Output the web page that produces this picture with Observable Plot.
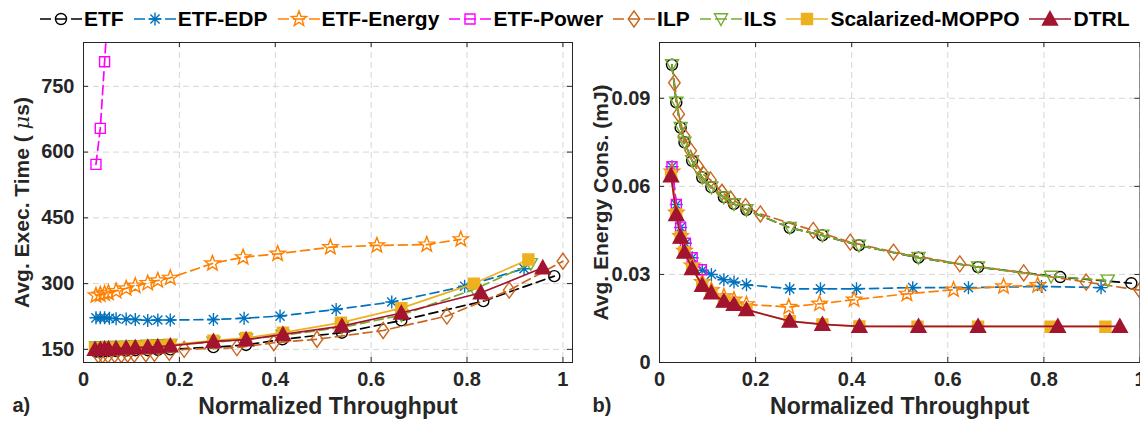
<!DOCTYPE html>
<html>
<head>
<meta charset="utf-8">
<script src="https://cdn.jsdelivr.net/npm/d3@7"></script>
<script src="https://cdn.jsdelivr.net/npm/@observablehq/plot@0.6"></script>
<style>
  html, body { margin: 0; padding: 0; background: #fff; }
  #wrap { position: relative; width: 1140px; height: 421px; overflow: hidden;
          font-family: "Liberation Sans", Arial, sans-serif; font-weight: bold; }
  #legend { position: absolute; left: 0; top: 0; width: 1140px; height: 37px;
            display: flex; align-items: center; padding-left: 40px; box-sizing: border-box; }
  .item { display: flex; align-items: center; margin-right: 10px; }
  .item span { font-size: 21px; color: #000; margin-left: 2px; white-space: nowrap; }
  .panel { position: absolute; top: 34px; }
</style>
</head>
<body>
<div id="wrap">
  <div id="legend"></div>
  <div class="panel" id="pa" style="left:0px"></div>
  <div class="panel" id="pb" style="left:580px"></div>
</div>
<script>
// ---------------- data ----------------
const seriesNames = ["ETF", "ETF-EDP", "ETF-Energy", "ETF-Power", "ILP", "ILS", "Scalarized-MOPPO", "DTRL"];

const etfX      = [0.026,0.035,0.044,0.052,0.068,0.089,0.108,0.134,0.155,0.181,0.271,0.339,0.415,0.539,0.663,0.834,0.982];
const etfTime   = [145,145,146,146,146,147,148,148,149,150,155,160,173,188,216,260,317];
const etfEnergy = [0.1014,0.0886,0.0800,0.0750,0.0687,0.0630,0.0597,0.0563,0.0540,0.0520,0.0459,0.0433,0.0399,0.0357,0.0325,0.0291,0.0270];

const edpX      = [0.026,0.035,0.044,0.054,0.068,0.089,0.108,0.134,0.155,0.181,0.271,0.335,0.410,0.527,0.643,0.795,0.919];
const edpTime   = [222,222,222,221,220,219,218,216,217,217,218,221,226,241,258,294,334];
const edpEnergy = [0.0667,0.0538,0.0460,0.0406,0.0357,0.0314,0.0300,0.0282,0.0274,0.0265,0.0251,0.0251,0.0251,0.0255,0.0255,0.0259,0.0255];

const energyX      = [0.026,0.035,0.044,0.052,0.068,0.089,0.108,0.134,0.155,0.181,0.269,0.333,0.405,0.515,0.612,0.716,0.787];
const energyTime   = [273,275,277,279,283,289,295,301,307,313,346,360,368,383,387,389,401];
const energyEnergy = [0.0650,0.0510,0.0430,0.0380,0.0330,0.0274,0.0246,0.0225,0.0214,0.0198,0.0189,0.0200,0.0214,0.0234,0.0248,0.0259,0.0263];

const powerX      = [0.026,0.035,0.044,0.054,0.068,0.087];
const powerTime   = [572,654,806,980];           // 4th point lies above the visible range
const powerEnergy = [0.0667,0.0538,0.0461,0.0406,0.0357,0.0316];

const ilpX      = [0.031,0.040,0.051,0.065,0.079,0.092,0.106,0.130,0.148,0.179,0.210,0.320,0.397,0.487,0.625,0.758,0.888,1.000];
const ilpTime   = [137,137,137,138,138,139,139,140,141,143,150,154,165,173,193,226,285,351];
const ilpEnergy = [0.0953,0.0846,0.0772,0.0721,0.0670,0.0640,0.0622,0.0580,0.0557,0.0531,0.0506,0.0450,0.0410,0.0376,0.0336,0.0305,0.0274,0.0246];

const ilsX      = [0.026,0.035,0.044,0.052,0.068,0.089,0.108,0.134,0.155,0.181,0.271,0.339,0.415,0.539,0.663,0.815,0.933];
const ilsTime   = [155,155,155,156,156,157,158,159,160,161,166,173,182,200,228,287,345];
const ilsEnergy = [0.1014,0.0886,0.0800,0.0750,0.0687,0.0630,0.0597,0.0563,0.0540,0.0520,0.0459,0.0433,0.0399,0.0357,0.0325,0.0293,0.0280];

const moppoX      = [0.024,0.035,0.044,0.052,0.068,0.089,0.108,0.134,0.155,0.181,0.271,0.339,0.416,0.537,0.663,0.814,0.928];
const moppoTime   = [152,152,153,153,154,155,156,157,158,160,170,176,188,211,244,300,355];
const moppoEnergy = [0.0636,0.0504,0.0427,0.0376,0.0320,0.0263,0.0237,0.0209,0.0198,0.0180,0.0141,0.0130,0.0123,0.0122,0.0122,0.0122,0.0122];

const dtrlX      = [0.024,0.035,0.044,0.052,0.068,0.089,0.108,0.134,0.155,0.181,0.271,0.339,0.416,0.539,0.663,0.829,0.958];
const dtrlTime   = [150,150,151,151,152,153,154,155,156,158,168,172,184,203,233,279,336];
const dtrlEnergy = [0.0636,0.0504,0.0427,0.0376,0.0320,0.0263,0.0237,0.0209,0.0198,0.0180,0.0141,0.0130,0.0123,0.0123,0.0123,0.0123,0.0123];

const xTicks = [0, 0.2, 0.4, 0.6, 0.8, 1];
const timeTicks = [150, 300, 450, 600, 750];
const energyTicks = [0, 0.03, 0.06, 0.09];

// ---------------- styles ----------------
const SYM = {
  circle:   {draw(c, s) { const r = Math.sqrt(s / Math.PI); c.moveTo(r, 0); c.arc(0, 0, r, 0, 2 * Math.PI); c.closePath(); }},
  asterisk: {draw(c, s) { const r = Math.sqrt(s / Math.PI);
              for (let k = 0; k < 4; k++) { const a = k * Math.PI / 4, dx = r * Math.cos(a), dy = r * Math.sin(a); c.moveTo(-dx, -dy); c.lineTo(dx, dy); } }},
  star:     {draw(c, s) { const r = Math.sqrt(s / Math.PI), ri = r * 0.42;
              for (let k = 0; k < 10; k++) { const rr = k % 2 ? ri : r, a = -Math.PI / 2 + k * Math.PI / 5;
                const px = rr * Math.cos(a), py = rr * Math.sin(a); if (k) c.lineTo(px, py); else c.moveTo(px, py); }
              c.closePath(); }},
  square:   {draw(c, s) { const r = Math.sqrt(s / Math.PI); c.rect(-r, -r, 2 * r, 2 * r); }},
  diamond:  {draw(c, s) { const r = Math.sqrt(s / Math.PI); c.moveTo(0, -r); c.lineTo(r * 0.72, 0); c.lineTo(0, r); c.lineTo(-r * 0.72, 0); c.closePath(); }},
  triUp:    {draw(c, s) { const r = Math.sqrt(s / Math.PI); c.moveTo(0, -r); c.lineTo(r, r * 0.8); c.lineTo(-r, r * 0.8); c.closePath(); }},
  triDown:  {draw(c, s) { const r = Math.sqrt(s / Math.PI); c.moveTo(0, r); c.lineTo(r, -r * 0.8); c.lineTo(-r, -r * 0.8); c.closePath(); }}
};

const styles = [
  {color: "#000000", dash: "9,5", sym: SYM.circle,   r: 5.5, fill: false},
  {color: "#0072BD", dash: "9,5", sym: SYM.asterisk, r: 6.5, fill: false},
  {color: "#FF8000", dash: "9,5", sym: SYM.star,     r: 8,   fill: false},
  {color: "#FF00FF", dash: "9,5", sym: SYM.square,   r: 5,   fill: false},
  {color: "#C9661F", dash: "9,5", sym: SYM.diamond,  r: 8,   fill: false},
  {color: "#77AC30", dash: "9,5", sym: SYM.triDown,  r: 6.5, fill: false},
  {color: "#EDB120", dash: null,  sym: SYM.square,   r: 5.5, fill: true},
  {color: "#A2142F", dash: null,  sym: SYM.triUp,    r: 7.5, fill: true}
];

const toRows = (xs, ys) => ys.map((y, i) => ({x: xs[i], y}));

const timeSeries = [
  toRows(etfX, etfTime), toRows(edpX, edpTime), toRows(energyX, energyTime), toRows(powerX, powerTime),
  toRows(ilpX, ilpTime), toRows(ilsX, ilsTime), toRows(moppoX, moppoTime), toRows(dtrlX, dtrlTime)
];
const energySeries = [
  toRows(etfX, etfEnergy), toRows(edpX, edpEnergy), toRows(energyX, energyEnergy), toRows(powerX, powerEnergy),
  toRows(ilpX, ilpEnergy), toRows(ilsX, ilsEnergy), toRows(moppoX, moppoEnergy), toRows(dtrlX, dtrlEnergy)
];

const FONT = '"Liberation Sans", Arial, sans-serif';
const AX = "#262626";

function panel({series, xDomain, yDomain, yTicks, width, marginLeft, marginRight, yLabel, tag, yLabelDx}) {
  const height = 387, marginTop = 8, marginBottom = 59;
  const plotH = height - marginTop - marginBottom;
  const plotW = width - marginLeft - marginRight;
  const marks = [
    Plot.ruleX(xTicks, {stroke: "#d6d6d6", strokeWidth: 1, strokeDasharray: "6,4"}),
    Plot.ruleY(yTicks, {stroke: "#d6d6d6", strokeWidth: 1, strokeDasharray: "6,4"})
  ];
  series.forEach((rows, i) => {
    const st = styles[i];
    marks.push(Plot.line(rows, {x: "x", y: "y", stroke: st.color, strokeWidth: 1.7,
      strokeDasharray: st.dash || undefined, clip: true}));
    marks.push(Plot.dot(rows, {x: "x", y: "y", symbol: st.sym, r: st.r, stroke: st.color,
      strokeWidth: 1.4, fill: st.fill ? st.color : "none", clip: true}));
  });
  marks.push(
    Plot.frame({stroke: AX, strokeWidth: 1}),
    Plot.ruleX(xTicks, {insetTop: plotH - 5, stroke: AX}),
    Plot.ruleX(xTicks, {insetBottom: plotH - 5, stroke: AX}),
    Plot.ruleY(yTicks, {insetRight: plotW - 5, stroke: AX}),
    Plot.ruleY(yTicks, {insetLeft: plotW - 5, stroke: AX}),
    Plot.axisX({ticks: xTicks, tickSize: 0, tickPadding: 9, tickFormat: d => String(d), fontSize: 20, fontWeight: "bold", fill: AX}),
    Plot.axisY({ticks: yTicks, tickSize: 0, tickPadding: 9, tickFormat: d => String(d), fontSize: 20, fontWeight: "bold", fill: AX}),
    Plot.text(["Normalized Throughput"], {frameAnchor: "bottom", dy: 51, textAnchor: "middle", fontSize: 23, fontWeight: "bold", fill: AX}),
    Plot.text([tag], {frameAnchor: "bottom-left", dx: -marginLeft + 12, dy: 49, textAnchor: "start", fontSize: 20, fontWeight: "bold", fill: AX}),
    Plot.text([yLabel], {frameAnchor: "left", dx: yLabelDx, rotate: -90, textAnchor: "middle", fontSize: 21, fontWeight: "bold", fill: AX})
  );
  const svg = Plot.plot({
    width, height, marginTop, marginBottom, marginLeft, marginRight,
    x: {domain: xDomain, label: null},
    y: {domain: yDomain, label: null},
    style: {fontFamily: FONT, fontWeight: "bold", background: "white", overflow: "visible"},
    marks
  });
  // italic mu in the time label
  svg.querySelectorAll("text").forEach(t => {
    if (t.textContent === "Avg. Exec. Time (μs)") {
      t.innerHTML = 'Avg. Exec. Time ( <tspan font-style="italic" font-family="DejaVu Serif, serif" font-weight="normal">μ</tspan>s)';
    }
  });
  return svg;
}

document.getElementById("pa").appendChild(panel({
  series: timeSeries, xDomain: [0, 1.02], yDomain: [120, 850], yTicks: timeTicks,
  width: 580, marginLeft: 83, marginRight: 8, yLabel: "Avg. Exec. Time (μs)", tag: "a)", yLabelDx: -61
}));
document.getElementById("pb").appendChild(panel({
  series: energySeries, xDomain: [0, 1], yDomain: [0, 0.109], yTicks: energyTicks,
  width: 560, marginLeft: 79, marginRight: 0.5, yLabel: "Avg. Energy Cons. (mJ)", tag: "b)", yLabelDx: -58
}));

// ---------------- legend ----------------
const legend = d3.select("#legend");
seriesNames.forEach((name, i) => {
  const st = styles[i];
  const item = legend.append("div").attr("class", "item");
  const svg = item.append("svg").attr("width", 42).attr("height", 24);
  svg.append("line").attr("x1", 0).attr("x2", 42).attr("y1", 12).attr("y2", 12)
    .attr("stroke", st.color).attr("stroke-width", 1.7)
    .attr("stroke-dasharray", st.dash ? "11,4,12,4,11" : null);
  svg.append("path").attr("transform", "translate(21,12)")
    .attr("d", d3.symbol(st.sym, Math.PI * st.r * st.r)())
    .attr("stroke", st.color).attr("stroke-width", 1.4)
    .attr("fill", st.fill ? st.color : "none");
  item.append("span").text(name);
});
</script>
</body>
</html>
